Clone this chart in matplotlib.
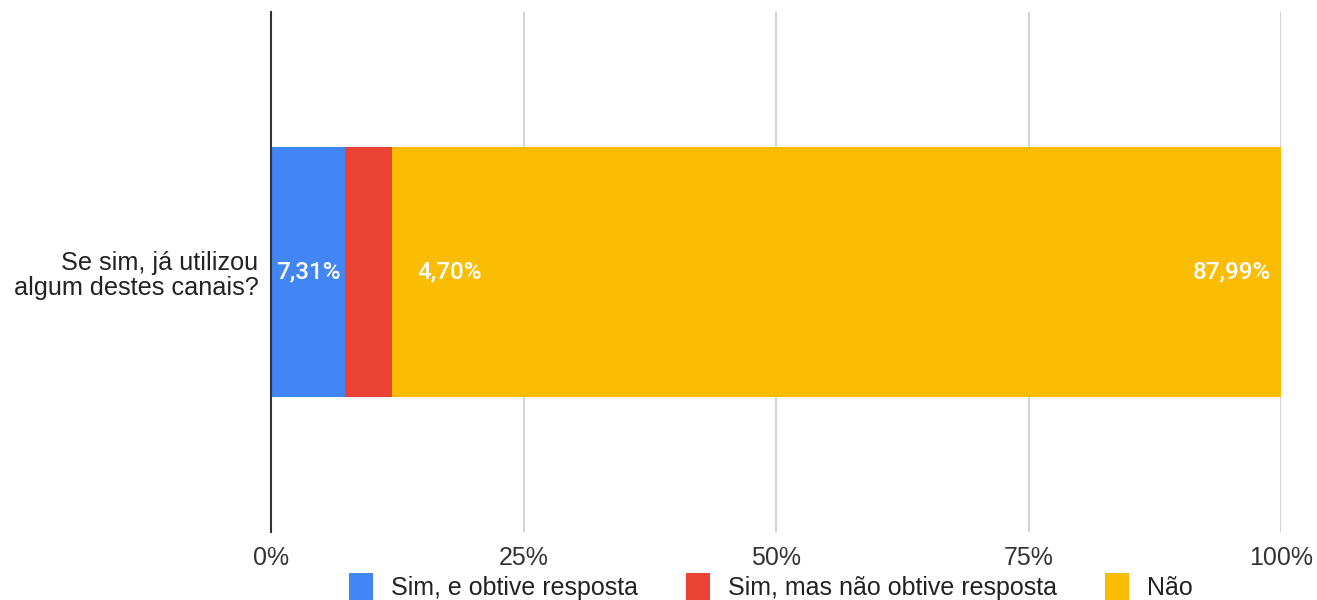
import matplotlib
matplotlib.use("Agg")
import matplotlib.pyplot as plt
from matplotlib import font_manager

plt.rcParams['font.family'] = ['Liberation Sans', 'DejaVu Sans']

# fonte estreita para eixo e legenda, se existir
nomes = {f.name for f in font_manager.fontManager.ttflist}
estreita = 'Liberation Sans Narrow' if 'Liberation Sans Narrow' in nomes else 'Liberation Sans'

# dados
categoria = ["Se sim, já utilizou\nalgum destes canais?"]
series = ["Sim, e obtive resposta", "Sim, mas não obtive resposta", "Não"]
valores = [7.31, 4.70, 87.99]
rotulos = ["7,31%", "4,70%", "87,99%"]
cores = ["#4285F4", "#EA4335", "#FBBC04"]
ticks = [0, 25, 50, 75, 100]
tick_labels = ["0%", "25%", "50%", "75%", "100%"]

fig = plt.figure(figsize=(13.17, 6), dpi=100)
ax = fig.add_axes([0.2058, 0.1133, 0.7669, 0.8667])

left = 0
barras = []
for nome, v, cor in zip(series, valores, cores):
    b = ax.barh(0, v, left=left, height=0.48, color=cor, label=nome, zorder=3)
    barras.append(b)
    left += v

# rótulos dos valores
inicio = 0
for i, (v, txt) in enumerate(zip(valores, rotulos)):
    kw = dict(va='center', color='white', fontsize=17.5, family=['Roboto', 'DejaVu Sans'],
              fontweight='medium', zorder=4)
    if i == 0:
        ax.text(inicio + v / 2, 0, txt, ha='center', **kw)
    elif i == 1:
        ax.text(inicio + v + 2.5, 0, txt, ha='left', **kw)
    else:
        ax.text(inicio + v - 1.0, 0, txt, ha='right', **kw)
    inicio += v

ax.set_xlim(0, 100)
ax.set_ylim(-0.5, 0.5)
ax.set_xticks(ticks)
ax.set_xticklabels(tick_labels, fontsize=18, color='#333333', family=[estreita, 'DejaVu Sans'])
ax.set_yticks([0])
ax.set_yticklabels(categoria, fontsize=18.2, color='#222222', linespacing=1.08)
ax.tick_params(axis='x', length=0, pad=10)
ax.tick_params(axis='y', length=0, pad=9)
ax.xaxis.grid(True, color='#cccccc', linewidth=1.2, zorder=0)
for s in ['top', 'right', 'bottom']:
    ax.spines[s].set_visible(False)
ax.spines['left'].set_color('#333333')
ax.spines['left'].set_linewidth(1.5)
ax.spines['left'].set_zorder(5)

fig.legend(handles=barras, labels=series, loc='center', bbox_to_anchor=(771 / 1317, 1 - 587 / 600),
           ncol=3, frameon=False, prop={'family': [estreita, 'DejaVu Sans'], 'size': 18},
           handlelength=0.95, handleheight=1.4, columnspacing=1.9, handletextpad=0.75,
           labelcolor='#222222', borderpad=0)

fig.savefig("out.png", dpi=100)
